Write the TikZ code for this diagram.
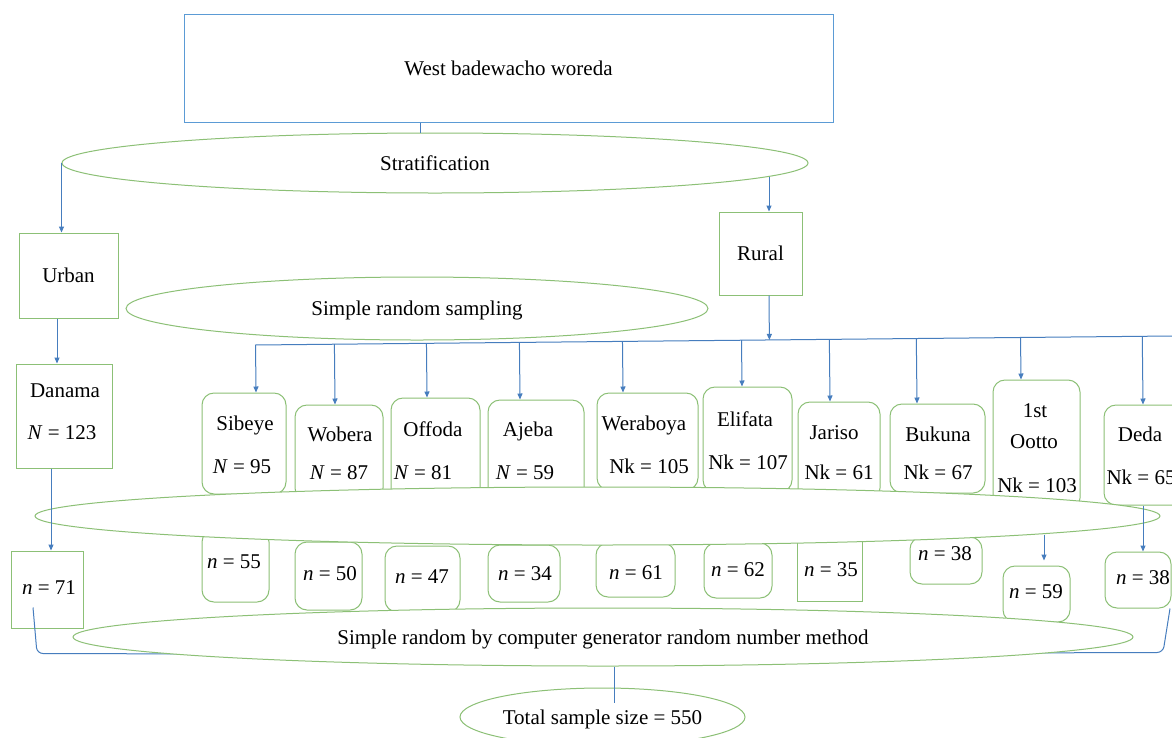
\documentclass[tikz,border=0pt]{standalone}
\usepackage{fontspec}
\setmainfont{Liberation Serif}
\usetikzlibrary{shapes.geometric,arrows.meta,calc}
\definecolor{topblue}{RGB}{91,155,213}
\definecolor{lineblue}{RGB}{70,125,190}
\definecolor{boxgreen}{RGB}{140,192,118}
\newcommand\karr[2]{\coordinate (t#1) at ([xshift=#2]#1.north); \draw[arr] ($(hl)!(t#1)!(hr)$) -- (t#1);}
\begin{document}
\begin{tikzpicture}[x=1pt,y=-1pt,font=\fontsize{21}{25}\selectfont,
  box/.style={draw=boxgreen,line width=1pt,fill=white,rectangle,inner sep=0pt,text height=14pt,text depth=0pt},
  rbox/.style={box,rounded corners=12pt},
  ell/.style={draw=boxgreen,line width=1pt,fill=white,ellipse,inner sep=0pt,text height=14pt,text depth=0pt},
  con/.style={draw=lineblue,line width=1pt},
  arr/.style={con,-{Triangle[length=6pt,width=5pt]}},
  lbl/.style={inner sep=0pt,text height=14pt,text depth=0pt}]
\useasboundingbox (0,0) rectangle (1172,737);
\fill[white] (0,0) rectangle (1172,737);

% top
\node[draw=topblue,line width=1pt,rectangle,minimum width=649pt,minimum height=108pt,inner sep=0pt,text height=14pt,text depth=0pt] (top) at (508.5,68) {West badewacho woreda};
\node[ell,minimum width=746pt,minimum height=60pt] (strat) at (435,163) {Stratification};
\draw[con] ([xshift=-88.5pt]top.south) -- ([xshift=-88.5pt]top.south |- strat.north);

\node[box,minimum width=99pt,minimum height=85pt] (urban) at (68.5,275.5) {Urban};
\node[box,minimum width=83pt,minimum height=83pt] (rural) at (760.5,253.5) {Rural};
\node[ell,minimum width=582pt,minimum height=63pt] (srs) at (417,308.5) {Simple random sampling};
\draw[arr] (strat.west) -- (strat.west |- urban.north);
\coordinate (sr) at (769,177);
\draw[arr] (sr) -- (sr |- rural.north);

% rural distribution line
\coordinate (hl) at (255,345);
\coordinate (hr) at (1172,336);
\draw[con] (hl) -- (hr);
\coordinate (rs) at ([xshift=8.5pt]rural.south);
\draw[arr] (rs) -- ($(hl)!(rs)!(hr)$);

% kebele boxes
\node[rbox,minimum width=84pt,minimum height=101pt] (k1) at (244,443.5) {};
\node[rbox,minimum width=88pt,minimum height=95pt] (k2) at (339,452.5) {};
\node[rbox,minimum width=89pt,minimum height=102pt] (k3) at (435.5,449) {};
\node[rbox,minimum width=96pt,minimum height=100pt] (k4) at (536,450) {};
\node[rbox,minimum width=101pt,minimum height=97pt] (k5) at (647.5,441.5) {};
\node[rbox,minimum width=89pt,minimum height=105pt] (k6) at (747.5,439.5) {};
\node[rbox,minimum width=82pt,minimum height=98pt] (k7) at (839,451) {};
\node[rbox,minimum width=95pt,minimum height=89pt] (k8) at (937.5,448.5) {};
\node[rbox,minimum width=87pt,minimum height=130pt] (k9) at (1036.5,445) {};
\node[rbox,minimum width=81pt,minimum height=100pt] (k10) at (1144.5,455) {};

\karr{k1}{12pt}
\karr{k2}{-4pt}
\karr{k3}{-8.5pt}
\karr{k4}{-16pt}
\karr{k5}{-24.5pt}
\karr{k6}{-5.5pt}
\karr{k7}{-9pt}
\karr{k8}{-20.5pt}
\karr{k9}{-15.5pt}
\karr{k10}{-1.5pt}

\node[lbl] (a1) at (245,423) {Sibeye};
\node[lbl] (b1) at (242,466) {\textit{N} = 95};
\node[lbl] (a2) at (340,434) {Wobera};
\node[lbl] (b2) at (339,472) {\textit{N} = 87};
\node[lbl] (a3) at (433,429) {Offoda};
\node[lbl] (b3) at (423,472) {\textit{N} = 81};
\node[lbl] (a4) at (528,429) {Ajeba};
\node[lbl] (b4) at (525,472) {\textit{N} = 59};
\node[lbl] (a5) at (644,423) {Weraboya};
\node[lbl] (b5) at (649,466) {Nk = 105};
\node[lbl] (a6) at (745,419) {Elifata};
\node[lbl] (b6) at (748,462) {Nk = 107};
\node[lbl] (a7) at (834,432) {Jariso};
\node[lbl] (b7) at (839,472) {Nk = 61};
\node[lbl] (a8) at (938,434) {Bukuna};
\node[lbl] (b8) at (938,472) {Nk = 67};
\node[lbl] (a9) at (1035,410) {1st};
\node[lbl] (c9) at (1034,441) {Ootto};
\node[lbl] (b9) at (1037,485) {Nk = 103};
\node[lbl] (a10) at (1140,434) {Deda};
\node[lbl] (b10) at (1141,477) {Nk = 65};

% urban side
\node[box,minimum width=96pt,minimum height=104pt] (dan) at (64,416) {};
\node[lbl] (dana) at (65,390) {Danama};
\node[lbl] (danb) at (62,432) {\textit{N} = 123};
\draw[arr] ([xshift=-11.5pt]urban.south) -- ([xshift=-11.5pt]urban.south |- dan.north);
\node[box,minimum width=72pt,minimum height=77pt] (n71) at (47,589.5) {};
\node[lbl] (n71t) at (49,587) {\textit{n} = 71};

% sample boxes
\node[rbox,minimum width=67pt,minimum height=72pt] (m1) at (235.5,566) {};
\node[rbox,minimum width=67pt,minimum height=68pt] (m2) at (328.5,576) {};
\node[rbox,minimum width=75pt,minimum height=66pt] (m3) at (422.5,579) {};
\node[rbox,minimum width=72pt,minimum height=57pt] (m4) at (524,573.5) {};
\node[rbox,minimum width=79pt,minimum height=54pt] (m5) at (635.5,570) {};
\node[rbox,minimum width=68pt,minimum height=55pt] (m6) at (738,570.5) {};
\node[box,minimum width=65pt,minimum height=61pt] (m7) at (829.5,570.5) {};
\node[rbox,minimum width=72pt,minimum height=47pt] (m8) at (946,560.5) {};
\node[rbox,minimum width=67pt,minimum height=56pt] (m9) at (1036.5,594) {};
\node[rbox,minimum width=66pt,minimum height=56pt] (m10) at (1138,580) {};

% big blank ellipse
\node[ell,minimum width=1125pt,minimum height=58pt] (e2) at (597.5,516) {};

\node[lbl] (s1) at (234,561) {\textit{n} = 55};
\node[lbl] (s2) at (330,573) {\textit{n} = 50};
\node[lbl] (s3) at (422,576) {\textit{n} = 47};
\node[lbl] (s4) at (525,573) {\textit{n} = 34};
\node[lbl] (s5) at (636,572) {\textit{n} = 61};
\node[lbl] (s6) at (738,569) {\textit{n} = 62};
\node[lbl] (s7) at (831,569) {\textit{n} = 35};
\node[lbl] (s8) at (945,553) {\textit{n} = 38};
\node[lbl] (s9) at (1036,591) {\textit{n} = 59};
\node[lbl] (s10) at (1143,577) {\textit{n} = 38};

\draw[arr] ([xshift=-13pt]dan.south) -- ([xshift=-13pt]dan.south |- n71.north);
\coordinate (o9) at ([xshift=7.5pt]m9.north);
\draw[arr] ([yshift=31pt]o9) -- ([yshift=5pt]o9);
\draw[arr] ([xshift=-1.5pt]k10.south) -- ([xshift=-1.5pt]k10.south |- m10.north);

% bottom
\coordinate (e3c) at (603,637);
\draw[con,rounded corners=6pt] ([xshift=-14pt,yshift=21pt]n71.south) -- ++(4pt,-46pt) -- ([yshift=-18pt]e3c);
\draw[con,rounded corners=6pt] ([xshift=32pt]m10.south) -- ++(-7pt,-44pt) -- ([yshift=-17pt]e3c);
\node[ell,minimum width=1060pt,minimum height=58pt] (e3) at (e3c) {Simple random by computer generator random number method};
\node[ell,minimum width=285pt,minimum height=58pt] (tot) at (602.5,717) {Total sample size = 550};
\draw[con] ([xshift=11pt]e3.south) -- ([xshift=11.5pt,yshift=14pt]tot.center);
\end{tikzpicture}
\end{document}
